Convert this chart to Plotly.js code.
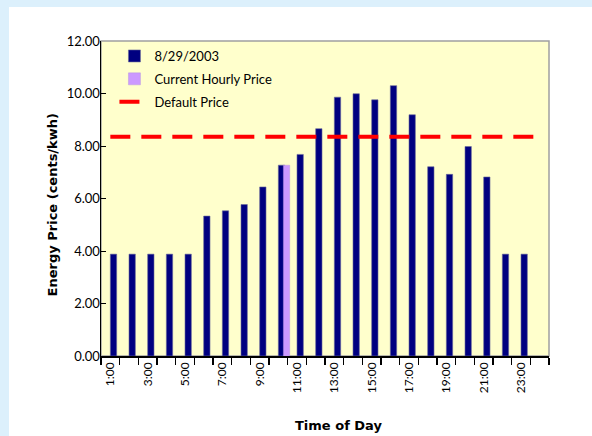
<!DOCTYPE html>
<html>
<head>
<meta charset="utf-8">
<script src="https://cdn.plot.ly/plotly-3.0.1.min.js"></script>
<style>
html,body{margin:0;padding:0;background:#dcf0fc;width:592px;height:436px;overflow:hidden;}
#chart{position:absolute;left:9px;top:7px;width:583px;height:429px;background:#fff;}
</style>
</head>
<body>
<div id="chart"></div>
<script>
// categories: hours of the day
const hours = ["1:00","2:00","3:00","4:00","5:00","6:00","7:00","8:00","9:00","10:00","11:00","12:00",
               "13:00","14:00","15:00","16:00","17:00","18:00","19:00","20:00","21:00","22:00","23:00","24:00"];
// tick labels (every other hour)
const hourLabels = ["1:00","","3:00","","5:00","","7:00","","9:00","","11:00","",
                    "13:00","","15:00","","17:00","","19:00","","21:00","","23:00",""];
// 8/29/2003 hourly prices (cents/kwh)
const price0829 = [3.88,3.88,3.88,3.88,3.88,5.33,5.53,5.77,6.44,7.27,7.68,8.66,
                   9.86,9.99,9.76,10.30,9.19,7.21,6.92,7.98,6.82,3.88,3.88,null];
// current hourly price (only the current hour)
const currentHour = ["10:00"];
const currentPrice = [7.27];
// default price (flat)
const defaultPrice = 8.35;
const defaultLine = hours.map(() => defaultPrice);

const font = "Lato, 'Open Sans', sans-serif";
const boldFont = "'DejaVu Sans', Verdana, sans-serif";

const traces = [
  {
    type: "bar", name: "8/29/2003", x: hours, y: price0829, legendgroup: "a",
    marker: {color: "#000080", line: {color: "#6a6a9a", width: 0.6}},
    width: 0.34, offset: 0
  },
  {
    type: "bar", name: "Current Hourly Price", x: currentHour, y: currentPrice, legendgroup: "b",
    marker: {color: "#cc99ff", line: {color: "#b090e0", width: 0.4}},
    width: 0.34, offset: 0.27
  },
  {
    type: "scatter", mode: "lines", name: "Default Price", x: hours, y: defaultLine, legendgroup: "c",
    line: {color: "#ff0000", width: 4, dash: "20px,11px"}
  }
];

const layout = {
  width: 583, height: 429,
  margin: {l: 91.5, r: 43, t: 33.5, b: 80},
  paper_bgcolor: "#ffffff",
  plot_bgcolor: "#ffffcc",
  barmode: "overlay",
  showlegend: true,
  font: {family: font, size: 12, color: "#000"},
  legend: {
    x: 0.03, y: 1.0, xanchor: "left", yanchor: "top",
    bgcolor: "rgba(0,0,0,0)", font: {family: font, size: 13, color: "#000"},
    itemwidth: 30, traceorder: "grouped", tracegroupgap: 3
  },
  xaxis: {
    type: "category", categoryorder: "array", categoryarray: hours,
    range: [-0.5, 23.5],
    tickmode: "array", tickvals: hours, ticktext: hourLabels,
    tickson: "boundaries", ticks: "outside", ticklen: 7, tickwidth: 1.5, tickcolor: "#000",
    tickangle: -90, tickfont: {family: font, size: 12, color: "#000"},
    showline: true, linecolor: "#000", linewidth: 1.5,
    showgrid: false, zeroline: false, fixedrange: true
  },
  yaxis: {
    range: [0, 12], dtick: 2, tick0: 0, tickformat: ".2f",
    ticks: "inside", ticklen: 5, tickcolor: "#000",
    ticklabelstandoff: -3,
    tickfont: {family: font, size: 13, color: "#000"},
    showline: true, linecolor: "#000", linewidth: 1.5,
    showgrid: false, zeroline: false, fixedrange: true
  },
  shapes: [
    {type: "rect", xref: "paper", yref: "paper", x0: 0, x1: 1, y0: 0, y1: 1,
     line: {color: "#a0a0a0", width: 1.5}, layer: "below"}
  ],
  annotations: [
    {text: "<b>Time of Day</b>", xref: "paper", yref: "paper", x: 0.53, y: -0.222,
     xanchor: "center", yanchor: "middle", showarrow: false,
     font: {family: boldFont, size: 13, color: "#000"}},
    {text: "<b>Energy Price (cents/kwh)</b>", xref: "paper", yref: "paper", x: -0.108, y: 0.48,
     xanchor: "center", yanchor: "middle", showarrow: false, textangle: -90,
     font: {family: boldFont, size: 13, color: "#000"}}
  ]
};

Plotly.newPlot("chart", traces, layout, {displayModeBar: false, staticPlot: true});
</script>
</body>
</html>
